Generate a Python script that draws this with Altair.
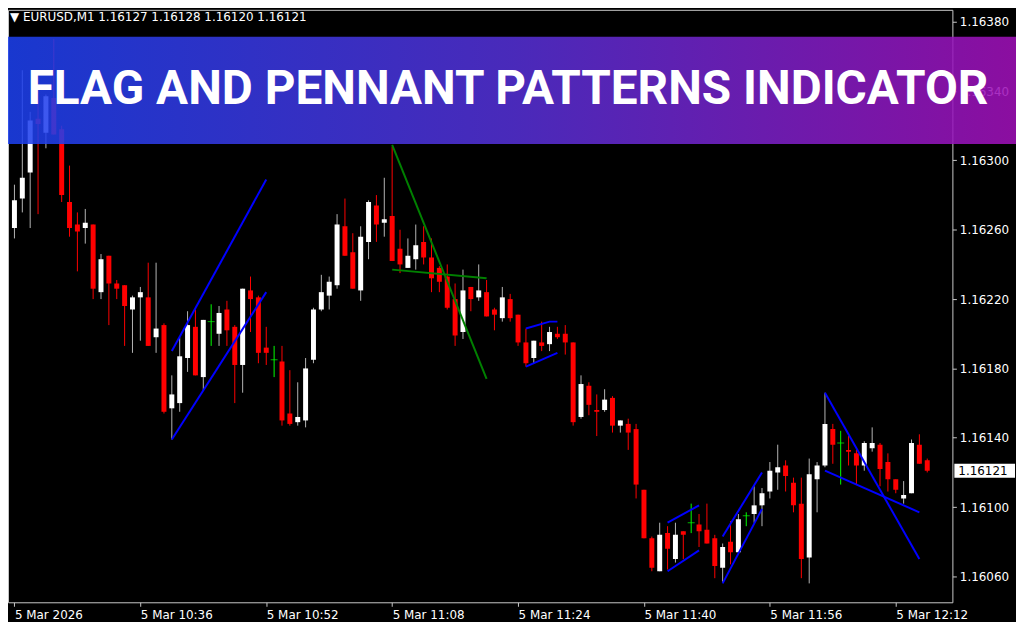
import altair as alt
import pandas as pd

# ---------------- data ----------------
symbol = "EURUSD,M1"
title_text = "FLAG AND PENNANT PATTERNS INDICATOR"

opens = [1.16261, 1.16278, 1.16293, 1.16324, 1.16316, 1.16336, 1.16318, 1.16276, 1.16263, 1.16261,
         1.16263, 1.16224, 1.16245, 1.16229, 1.16228, 1.16214, 1.16221, 1.16221, 1.16198, 1.16205,
         1.16157, 1.16160, 1.16186, 1.16204, 1.16175, 1.16207, 1.16200, 1.16214, 1.16204, 1.16182,
         1.16225, 1.16221, 1.16192, 1.16185, 1.16184, 1.16154, 1.16149, 1.16150, 1.16185, 1.16214,
         1.16222, 1.16228, 1.16262, 1.16247, 1.16225, 1.16253, 1.16274, 1.16264, 1.16268, 1.16249,
         1.16238, 1.16243, 1.16253, 1.16244, 1.16238, 1.16233, 1.16220, 1.16201, 1.16227, 1.16221,
         1.16224, 1.16214, 1.16209, 1.16220, 1.16211, 1.16195, 1.16186, 1.16195, 1.16194, 1.16200,
         1.16200, 1.16195, 1.16152, 1.16170, 1.16156, 1.16156, 1.16163, 1.16147, 1.16148, 1.16145,
         1.16110, 1.16082, 1.16063, 1.16085, 1.16070, 1.16086, 1.16091, 1.16090, 1.16087, 1.16082,
         1.16065, 1.16080, 1.16074, 1.16095, 1.16096, 1.16101, 1.16109, 1.16120, 1.16124, 1.16114,
         1.16102, 1.16071, 1.16116, 1.16124, 1.16145, 1.16137, 1.16133, 1.16131, 1.16124, 1.16134,
         1.16136, 1.16126, 1.16116, 1.16105, 1.16108, 1.16136, 1.16127]
highs = [1.16286, 1.16352, 1.16328, 1.16335, 1.16338, 1.16370, 1.16320, 1.16297, 1.16270, 1.16272,
         1.16263, 1.16246, 1.16245, 1.16231, 1.16228, 1.16222, 1.16227, 1.16241, 1.16241, 1.16206,
         1.16176, 1.16198, 1.16213, 1.16214, 1.16208, 1.16217, 1.16216, 1.16219, 1.16205, 1.16226,
         1.16233, 1.16222, 1.16204, 1.16193, 1.16193, 1.16179, 1.16172, 1.16186, 1.16215, 1.16234,
         1.16233, 1.16269, 1.16278, 1.16258, 1.16262, 1.16277, 1.16280, 1.16290, 1.16308, 1.16260,
         1.16255, 1.16263, 1.16262, 1.16255, 1.16239, 1.16240, 1.16229, 1.16237, 1.16227, 1.16240,
         1.16231, 1.16215, 1.16227, 1.16223, 1.16211, 1.16203, 1.16196, 1.16207, 1.16204, 1.16204,
         1.16205, 1.16195, 1.16176, 1.16172, 1.16165, 1.16168, 1.16164, 1.16150, 1.16151, 1.16148,
         1.16110, 1.16083, 1.16091, 1.16089, 1.16091, 1.16086, 1.16102, 1.16096, 1.16102, 1.16084,
         1.16079, 1.16092, 1.16096, 1.16097, 1.16112, 1.16111, 1.16126, 1.16136, 1.16127, 1.16117,
         1.16117, 1.16128, 1.16126, 1.16166, 1.16148, 1.16144, 1.16141, 1.16133, 1.16138, 1.16146,
         1.16137, 1.16131, 1.16116, 1.16115, 1.16139, 1.16142, 1.16128]
lows = [1.16255, 1.16270, 1.16261, 1.16269, 1.16307, 1.16315, 1.16276, 1.16256, 1.16236, 1.16252,
        1.16220, 1.16220, 1.16205, 1.16220, 1.16193, 1.16189, 1.16196, 1.16193, 1.16189, 1.16154,
        1.16139, 1.16155, 1.16178, 1.16176, 1.16167, 1.16193, 1.16193, 1.16193, 1.16160, 1.16166,
        1.16201, 1.16183, 1.16182, 1.16175, 1.16147, 1.16147, 1.16147, 1.16146, 1.16183, 1.16213,
        1.16214, 1.16226, 1.16245, 1.16226, 1.16219, 1.16243, 1.16253, 1.16256, 1.16242, 1.16235,
        1.16238, 1.16237, 1.16240, 1.16224, 1.16224, 1.16214, 1.16193, 1.16197, 1.16213, 1.16219,
        1.16210, 1.16202, 1.16207, 1.16207, 1.16193, 1.16181, 1.16183, 1.16190, 1.16190, 1.16197,
        1.16188, 1.16147, 1.16151, 1.16153, 1.16141, 1.16155, 1.16143, 1.16143, 1.16133, 1.16105,
        1.16082, 1.16063, 1.16063, 1.16064, 1.16068, 1.16070, 1.16085, 1.16077, 1.16079, 1.16059,
        1.16057, 1.16067, 1.16074, 1.16089, 1.16091, 1.16089, 1.16105, 1.16110, 1.16109, 1.16097,
        1.16059, 1.16056, 1.16097, 1.16123, 1.16125, 1.16113, 1.16124, 1.16113, 1.16121, 1.16132,
        1.16112, 1.16109, 1.16108, 1.16102, 1.16108, 1.16125, 1.16120]
closes = [1.16277, 1.16290, 1.16323, 1.16321, 1.16337, 1.16315, 1.16280, 1.16261, 1.16259, 1.16264,
          1.16226, 1.16243, 1.16229, 1.16226, 1.16216, 1.16221, 1.16224, 1.16193, 1.16203, 1.16155,
          1.16165, 1.16187, 1.16205, 1.16176, 1.16208, 1.16207, 1.16212, 1.16202, 1.16182, 1.16226,
          1.16220, 1.16189, 1.16189, 1.16185, 1.16150, 1.16148, 1.16152, 1.16180, 1.16214, 1.16224,
          1.16230, 1.16263, 1.16245, 1.16226, 1.16256, 1.16276, 1.16263, 1.16266, 1.16242, 1.16240,
          1.16245, 1.16251, 1.16244, 1.16232, 1.16230, 1.16215, 1.16199, 1.16225, 1.16220, 1.16225,
          1.16210, 1.16211, 1.16221, 1.16209, 1.16195, 1.16183, 1.16196, 1.16193, 1.16201, 1.16198,
          1.16195, 1.16149, 1.16171, 1.16159, 1.16155, 1.16162, 1.16147, 1.16150, 1.16143, 1.16113,
          1.16082, 1.16065, 1.16084, 1.16076, 1.16084, 1.16084, 1.16091, 1.16086, 1.16079, 1.16066,
          1.16077, 1.16074, 1.16093, 1.16095, 1.16101, 1.16108, 1.16121, 1.16123, 1.16118, 1.16101,
          1.16070, 1.16119, 1.16124, 1.16148, 1.16136, 1.16137, 1.16132, 1.16124, 1.16137, 1.16137,
          1.16122, 1.16116, 1.16110, 1.16107, 1.16137, 1.16125, 1.16121]

x_tick_values = [0, 16, 32, 48, 64, 80, 96, 112]
x_tick_labels = ["5 Mar 2026", "5 Mar 10:36", "5 Mar 10:52", "5 Mar 11:08",
                 "5 Mar 11:24", "5 Mar 11:40", "5 Mar 11:56", "5 Mar 12:12"]
y_tick_values = [1.16060, 1.16100, 1.16140, 1.16180, 1.16220, 1.16260, 1.16300, 1.16340, 1.16380]

# pattern lines drawn by the indicator
line_ids = ["a", "a", "b", "b", "g1", "g1", "g2", "g2", "s1", "s1", "s1", "s2", "s2",
            "f1", "f1", "f2", "f2", "f3", "f3", "f4", "f4", "p1", "p1", "p2", "p2"]
line_kinds = ["blue"] * 4 + ["green"] * 4 + ["blue"] * 17
line_k = [20, 32, 20, 32, 48, 60, 48, 60, 65, 68, 69, 65, 69,
          83, 87, 83, 87, 90, 95, 90, 95, 103, 115, 103, 115]
line_price = [1.16190, 1.16289, 1.16139, 1.16224, 1.16309, 1.16174, 1.16237, 1.16232,
              1.16203, 1.16207, 1.16207, 1.16181, 1.16189,
              1.16091, 1.16101, 1.16063, 1.16075, 1.16083, 1.16120, 1.16056, 1.16099,
              1.16166, 1.16070, 1.16121, 1.16097]

# ---------------- tables ----------------
n = len(opens)
df = pd.DataFrame({"k": list(range(n)), "open": opens, "high": highs, "low": lows, "close": closes})
df["dir"] = ["up" if c > o else ("down" if c < o else "doji") for o, c in zip(opens, closes)]
lines_df = pd.DataFrame({"id": line_ids, "kind": line_kinds, "k": line_k, "price": line_price})
last_df = pd.DataFrame({"price": [closes[-1]]})
header = f"\u25BC {symbol}  {opens[-1]:.5f} {highs[-1]:.5f} {lows[-1]:.5f} {closes[-1]:.5f}"

# ---------------- styling ----------------
W, H = 950, 596
FONT = "DejaVu Sans"
FS = 12
xscale = alt.Scale(domain=[-0.1875, 118.5625], nice=False, zero=False)
yscale = alt.Scale(domain=[1.1604509, 1.1638688], nice=False, zero=False)

label_arr = "[" + ",".join(f"'{s}'" for s in x_tick_labels) + "]"
x_axis = alt.Axis(values=x_tick_values, labelExpr=f"{label_arr}[round(datum.value/16)]",
                  labelAlign="left", labelBaseline="top", labelPadding=3, tickSize=4,
                  tickColor="#c8c8c8", domain=False, grid=False, labelColor="white",
                  labelFont=FONT, labelFontSize=FS, title=None, labelOverlap=False,
                  labelFlush=False, labelBound=False)
y_axis = alt.Axis(orient="right", values=y_tick_values, format=".5f", labelPadding=3,
                  tickSize=4, tickColor="#c8c8c8", domain=False, grid=False,
                  labelColor="white", labelFont=FONT, labelFontSize=FS, title=None,
                  labelOverlap=False, labelFlush=False, labelBound=False)

X = lambda f: alt.X(f, scale=xscale, axis=x_axis)
Y = lambda f: alt.Y(f, scale=yscale, axis=y_axis)

base = alt.Chart(df)
wicks = base.mark_rule(strokeWidth=1, clip=True).encode(
    x=X("k:Q"), y=Y("low:Q"), y2="high:Q",
    color=alt.Color("dir:N", legend=None,
                    scale=alt.Scale(domain=["up", "down", "doji"],
                                    range=["#b4b4b4", "#ff0000", "#00ff00"])))
bodies = base.mark_bar(size=5, clip=True).encode(
    x=X("k:Q"), y=Y("open:Q"), y2="close:Q",
    color=alt.Color("dir:N", legend=None,
                    scale=alt.Scale(domain=["up", "down", "doji"],
                                    range=["#ffffff", "#ff0000", "#00ff00"])))
dojis = base.transform_filter(alt.datum.dir == "doji").mark_tick(
    orient="horizontal", size=7, thickness=1, color="#00ff00", clip=True).encode(
    x=X("k:Q"), y=Y("open:Q"))
pattern = alt.Chart(lines_df).mark_line(strokeWidth=2, clip=True).encode(
    x=X("k:Q"), y=Y("price:Q"), detail="id:N", order="k:Q",
    color=alt.Color("kind:N", legend=None,
                    scale=alt.Scale(domain=["blue", "green"], range=["#0000ff", "#008000"])))

price_box = alt.Chart(last_df).mark_tick(orient="horizontal", size=61, thickness=14,
                                         color="white", opacity=1).encode(
    x=alt.value(982.5), y=Y("price:Q"))
price_text = alt.Chart(last_df).mark_text(align="left", baseline="middle", color="black",
                                          font=FONT, fontSize=FS).encode(
    x=alt.value(956), y=Y("price:Q"), text=alt.Text("price:Q", format=".5f"))

header_text = alt.Chart(alt.Data(values=[{"t": header}])).mark_text(
    align="left", baseline="middle", color="white", font=FONT, fontSize=FS).encode(
    x=alt.value(2), y=alt.value(7), text="t:N")

gradient = alt.LinearGradient(
    gradient="linear", x1=0, x2=1, y1=0, y2=0,
    stops=[alt.GradientStop(color="#1c40ee", offset=0),
           alt.GradientStop(color="#5430d6", offset=0.5),
           alt.GradientStop(color="#a010b8", offset=1)])
banner = alt.Chart(alt.Data(values=[{"b": 1}])).mark_rect(color=gradient, opacity=0.87).encode(
    x=alt.value(0), x2=alt.value(1014), y=alt.value(27), y2=alt.value(135))
banner_text = alt.Chart(alt.Data(values=[{"t": title_text}])).mark_text(
    align="center", baseline="middle", color="white", font="Roboto", fontWeight="bold",
    fontSize=48).encode(x=alt.value(503), y=alt.value(81), text="t:N")

chart = alt.layer(
    wicks, bodies, dojis, pattern, price_box, price_text, banner, banner_text, header_text
).resolve_scale(color="independent").properties(
    width=W, height=H, padding=0, background="#000000"
).configure_view(stroke="#c8c8c8", strokeWidth=1)

chart.save("out.html", embed_options={"renderer": "svg", "actions": False})
